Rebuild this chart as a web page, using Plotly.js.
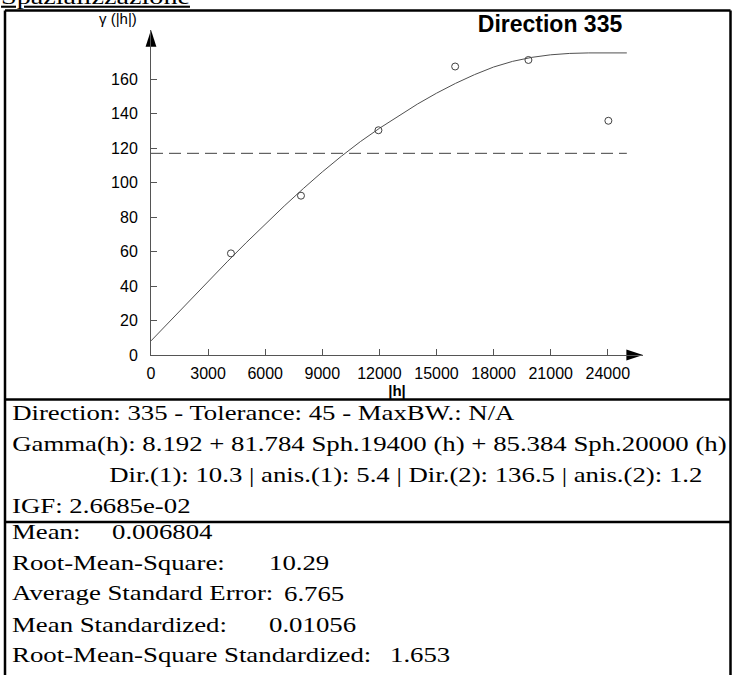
<!DOCTYPE html>
<html>
<head>
<meta charset="utf-8">
<script src="https://cdn.plot.ly/plotly-3.0.1.min.js"></script>
<style>
html, body { margin: 0; padding: 0; background: #fff; }
#chart { width: 733px; height: 675px; }
g.annotation:not([data-index="0"]) text.annotation-text {
  transform-box: fill-box;
  transform-origin: 0 50%;
  transform: scaleX(1.34);
}
</style>
</head>
<body>
<div id="chart"></div>
<script>
// ---- data ----
const lagX = [4200, 7880, 11950, 15980, 19830, 24030];          // |h|
const gammaY = [59, 92.5, 130.5, 167.5, 171.3, 136];             // experimental semivariance
const modelX = [0, 1000, 2000, 3000, 4000, 5000, 6000, 7000, 8000, 9000, 10000, 11000, 12000,
                13000, 14000, 15000, 16000, 17000, 18000, 19000, 20000, 21000, 22000, 23000, 24000, 25000];
const modelY = [8.2, 19.8, 31.3, 42.8, 54.1, 65.2, 76.0, 86.5, 96.6, 106.3, 115.4, 123.9, 131.6,
                138.9, 145.7, 152.0, 157.7, 162.8, 167.2, 170.5, 172.8, 174.3, 175.1, 175.4, 175.4, 175.4];
const sillX = [0, 25000];
const sillY = [117.1, 117.1];
const xTickVals = [0, 3000, 6000, 9000, 12000, 15000, 18000, 21000, 24000];
const xTickText = ["0", "3000", "6000", "9000", "12000", "15000", "18000", "21000", "24000"];
const yTickVals = [0, 20, 40, 60, 80, 100, 120, 140, 160];
const yTickText = ["0", "20", "40", "60", "80", "100", "120", "140", "160"];
const xMax = 25850, yMax = 188.7;

const headingText = "Spazializzazione";
const chartTitle = "Direction 335";
const yLabel = "γ (|h|)";
const xLabel = "|h|";
const infoLines = [
  "Direction: 335 - Tolerance: 45 - MaxBW.: N/A",
  "Gamma(h): 8.192 + 81.784 Sph.19400 (h) + 85.384 Sph.20000 (h)",
  "Dir.(1): 10.3 | anis.(1): 5.4 | Dir.(2): 136.5 | anis.(2): 1.2",
  "IGF: 2.6685e-02"
];
const statLabels = ["Mean:", "Root-Mean-Square:", "Average Standard Error:", "Mean Standardized:", "Root-Mean-Square Standardized:"];
const statValues = ["0.006804", "10.29", "6.765", "0.01056", "1.653"];

// ---- layout helpers (pixel -> paper) ----
const W = 733, H = 675;
const px = v => v / W;
const py = v => 1 - v / H;

const serif = { family: "Liberation Serif, Times New Roman, serif", size: 20, color: "#000" };
const sans = "Liberation Sans, Arial, sans-serif";

const annotations = [];
annotations.push({ text: yLabel, xref: "paper", yref: "paper", x: px(117.5), y: py(19),
  xanchor: "center", yanchor: "middle", showarrow: false,
  font: { family: sans, size: 15, color: "#000" } });
annotations.push({ text: "<u>" + headingText + "</u>", xref: "paper", yref: "paper", x: px(-1), y: py(-3.5),
  xanchor: "left", yanchor: "middle", showarrow: false,
  font: { family: serif.family, size: 21, color: "#000" } });

const infoX = [10, 10, 107, 10];
const infoBase = [420, 451, 482, 513];
infoLines.forEach((t, i) => annotations.push({ text: t, xref: "paper", yref: "paper",
  x: px(infoX[i]), y: py(infoBase[i] - 6.75), xanchor: "left", yanchor: "middle",
  showarrow: false, font: serif }));

const statBase = [539, 569.75, 600.5, 631.25, 662];
const statValX = [110, 267, 282, 267, 388];
statLabels.forEach((t, i) => {
  annotations.push({ text: t, xref: "paper", yref: "paper", x: px(10), y: py(statBase[i] - 6.75),
    xanchor: "left", yanchor: "middle", showarrow: false, font: serif });
  annotations.push({ text: statValues[i], xref: "paper", yref: "paper", x: px(statValX[i]), y: py(statBase[i] - 6.75),
    xanchor: "left", yanchor: "middle", showarrow: false, font: serif });
});

const border = { color: "#000", width: 2.5 };
const shapes = [
  { type: "line", xref: "paper", yref: "paper", x0: px(5), x1: px(730.5), y0: py(10.5), y1: py(10.5), line: border },
  { type: "line", xref: "paper", yref: "paper", x0: px(5), x1: px(5), y0: py(10.5), y1: py(680), line: border },
  { type: "line", xref: "paper", yref: "paper", x0: px(730.5), x1: px(730.5), y0: py(10.5), y1: py(680), line: border },
  { type: "line", xref: "paper", yref: "paper", x0: px(5), x1: px(730.5), y0: py(399.5), y1: py(399.5), line: border },
  { type: "line", xref: "paper", yref: "paper", x0: px(5), x1: px(730.5), y0: py(522), y1: py(522), line: border }
];

const traces = [
  { x: sillX, y: sillY, mode: "lines", line: { color: "#404040", width: 1, dash: "12px,6px" }, hoverinfo: "skip", showlegend: false },
  { x: modelX, y: modelY, mode: "lines", line: { color: "#505050", width: 1 }, showlegend: false },
  { x: lagX, y: gammaY, mode: "markers", marker: { symbol: "circle-open", size: 7, color: "#404040", line: { width: 1 } }, showlegend: false },
  { x: [xMax, 0], y: [0, yMax], mode: "markers", cliponaxis: false, hoverinfo: "skip", showlegend: false,
    marker: { symbol: "arrow", angle: [90, 0], size: 17.5, color: "#000", line: { width: 0 } } }
];

const axisCommon = {
  showline: true, linecolor: "#555", linewidth: 1, ticks: "inside", ticklen: 6, tickcolor: "#555",
  showgrid: false, zeroline: false, tickmode: "array", fixedrange: true,
  tickfont: { family: sans, size: 16, color: "#000" }
};

const layout = {
  width: W, height: H, margin: { l: 0, r: 0, t: 0, b: 0 },
  paper_bgcolor: "#fff", plot_bgcolor: "#fff", showlegend: false,
  title: { text: chartTitle, x: px(550), xref: "paper", y: py(24.4), yref: "paper", xanchor: "center", yanchor: "middle",
    font: { family: sans, size: 23, color: "#000", weight: "bold" } },
  xaxis: Object.assign({}, axisCommon, { domain: [px(151), px(643)], range: [0, xMax],
    tickvals: xTickVals, ticktext: xTickText, ticklabelstandoff: 4,
    title: { text: "<b>" + xLabel + "</b>", standoff: 2, font: { family: sans, size: 15, color: "#000" } } }),
  yaxis: Object.assign({}, axisCommon, { domain: [py(355), py(30)], range: [0, yMax],
    tickvals: yTickVals, ticktext: yTickText, ticklabelstandoff: 9 }),
  annotations: annotations,
  shapes: shapes
};

Plotly.newPlot("chart", traces, layout, { staticPlot: true, displayModeBar: false });
</script>
</body>
</html>
